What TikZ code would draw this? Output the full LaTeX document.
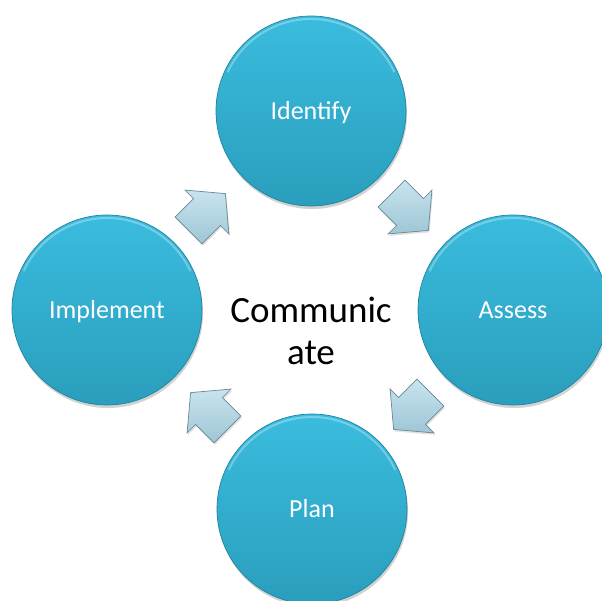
\documentclass[tikz,border=0pt]{standalone}
\usepackage{fontspec}
\setmainfont{Carlito}
\usetikzlibrary{shadows}
\definecolor{ctop}{RGB}{58,188,222}
\definecolor{cbot}{RGB}{42,158,188}
\definecolor{cedge}{RGB}{32,132,160}
\definecolor{alight}{RGB}{200,228,238}
\definecolor{adark}{RGB}{158,198,214}
\definecolor{aedge}{RGB}{105,135,148}
\begin{document}
\begin{tikzpicture}[x=1pt,y=-1pt,
  stage/.style={circle, minimum size=190pt, inner sep=0pt,
    top color=ctop, bottom color=cbot, draw=cedge, line width=0.7pt,
    text=white, font=\fontsize{26}{31}\selectfont,
    text height=17pt, text depth=0pt,
    drop shadow={shadow xshift=1pt, shadow yshift=-3pt, opacity=0.25, fill=black!70}},
  rim/.style={draw=white, opacity=0.3, line width=2pt},
  flow/.style={top color=alight, bottom color=adark, draw=aedge,
    line width=0.7pt, line join=miter,
    drop shadow={shadow xshift=1pt, shadow yshift=-2pt, opacity=0.2, fill=black!60}},
  hub/.style={align=center, inner sep=0pt, text=black,
    font=\fontsize{37}{42}\selectfont}
]
\useasboundingbox (0,0) rectangle (602,601);
\clip (0,0) rectangle (602,601);
\fill[white] (0,0) rectangle (602,601);

% connector arrows
\foreach \cx/\cy/\ang in {207/212/45, 410/212/-45, 412/411/-135, 209/411/135}{
  \begin{scope}[shift={(\cx,\cy)}, rotate=\ang]
    \path[flow] (26,0) -- (0,31) -- (0,19) -- (-26,19) -- (-26,-19)
      -- (0,-19) -- (0,-31) -- cycle;
  \end{scope}
}

\node[stage] (identify)  at (311,111) {Identify};
\node[stage] (assess)    at (513,310) {Assess};
\node[stage] (plan)      at (312,509) {Plan};
\node[stage] (implement) at (107,310) {Implement};

\foreach \n in {identify, assess, plan, implement}{
  \draw[rim] (\n.center) ++(205:92) arc[start angle=205, end angle=335, radius=92];
}

\node[hub] (communicate) at (311,331) {Communic\\ate};
\end{tikzpicture}
\end{document}
